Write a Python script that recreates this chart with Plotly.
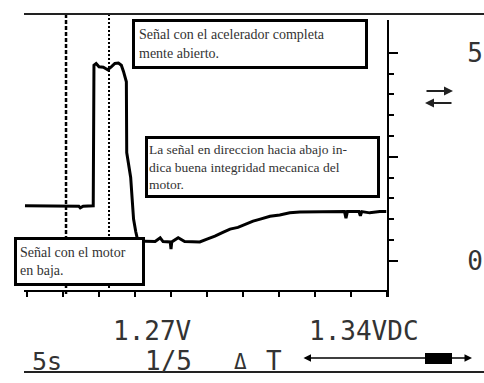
import plotly.graph_objects as go

# Scope trace: time in seconds (5 s/div, 10 divisions), signal in volts
time_s = [-0.28, 3.0, 7.2, 7.4, 7.8, 9.2, 9.3, 9.6, 10.0, 10.6, 11.2, 11.7, 12.2,
          12.7, 13.1, 13.4, 13.7, 13.8, 13.85, 14.2, 14.4, 14.6, 14.8, 15.1, 15.4,
          16.4, 17.8, 18.5, 18.9, 19.9, 20.0, 20.1, 21.0, 21.9, 24.0, 25.0, 26.1,
          27.2, 28.2, 29.3, 30.3, 31.4, 32.4, 33.75, 35.1, 36.5, 37.9, 40.7, 44.1,
          44.3, 44.5, 46.1, 46.3, 46.5, 47.6, 49.0, 49.9]
volts = [1.32, 1.32, 1.31, 1.27, 1.31, 1.32, 4.70, 4.74, 4.66, 4.65, 4.59, 4.66,
         4.74, 4.75, 4.70, 4.55, 4.40, 4.30, 2.60, 2.20, 2.00, 1.50, 1.00, 0.70,
         0.47, 0.47, 0.46, 0.55, 0.46, 0.45, 0.28, 0.45, 0.55, 0.46, 0.45, 0.52,
         0.59, 0.68, 0.76, 0.80, 0.88, 0.95, 1.00, 1.07, 1.10, 1.15, 1.17, 1.18,
         1.18, 1.02, 1.18, 1.18, 1.08, 1.18, 1.15, 1.18, 1.18]

cursor_times = [5.42, 11.39]          # dashed and dotted cursors
major_ticks = [0, 2.5, 5]
major_labels = ["0", "", "5"]
minor_ticks = [0.5, 1.0, 1.5, 2.0, 3.0, 3.5, 4.0, 4.5]

readout_top = ["1.27V", "1.34VDC"]
readout_bottom = ["5s", "1/5", "Δ", "T"]

notes = [
    "Señal con el acelerador completa<br>mente abierto.",
    "La señal en direccion hacia abajo in-<br>dica buena integridad mecanica del<br>motor.",
    "Señal con el motor<br>en baja.",
]

W, H = 484, 383


def px(x):
    return x / W


def py(y):
    return 1 - y / H


def volt_at(y):
    return (260.7 - y) / 41.6


fig = go.Figure()
fig.add_trace(go.Scatter(x=time_s, y=volts, mode="lines",
                         line=dict(color="black", width=3), hoverinfo="skip"))

shapes = []
# cursors
shapes.append(dict(type="line", xref="x", yref="paper", x0=cursor_times[0], x1=cursor_times[0],
                   y0=py(14), y1=py(296), line=dict(color="black", width=2.5, dash="4px,2px")))
shapes.append(dict(type="line", xref="x", yref="paper", x0=cursor_times[1], x1=cursor_times[1],
                   y0=py(14), y1=py(294), line=dict(color="black", width=2, dash="2px,2px")))
# frame lines of the display
shapes.append(dict(type="line", xref="paper", yref="paper", x0=px(24), x1=1, y0=py(14), y1=py(14),
                   line=dict(color="#222", width=2)))
shapes.append(dict(type="line", xref="paper", yref="paper", x0=px(24), x1=1, y0=py(372), y1=py(372),
                   line=dict(color="#222", width=2)))
# scroll-bar block
shapes.append(dict(type="rect", xref="paper", yref="paper", x0=px(425), x1=px(452),
                   y0=py(364), y1=py(353), fillcolor="black", line=dict(width=0)))

serif = "Liberation Serif"
mono = "DejaVu Sans Mono"

annotations = []
# (left, top, outer width, outer height, font size, padding)
box_specs = [(132, 19, 236, 50, 14, 4), (145, 136, 235, 62, 13.5, 1), (14, 237, 131, 49, 14, 3)]
for text, (bx, by, bw, bh, fs, pad) in zip(notes, box_specs):
    annotations.append(dict(
        text=text, xref="paper", yref="paper", x=px(bx), y=py(by), xanchor="left", yanchor="top",
        showarrow=False, align="left", valign="middle",
        width=bw - 2 * pad - 6, height=bh - 2 * pad - 6, borderpad=pad, borderwidth=3,
        bordercolor="black", bgcolor="white", font=dict(family=serif, size=fs, color="#333")))

for text, cx in zip(readout_top, [151.5, 364]):
    annotations.append(dict(text=text, xref="paper", yref="paper", x=px(cx), y=py(331),
                            xanchor="center", yanchor="middle", showarrow=False,
                            font=dict(family=mono, size=26, color="#333")))

for text, cx, cy, sz in zip(readout_bottom, [47, 168, 240, 274], [361, 361, 362, 361], [25, 26, 21, 26]):
    annotations.append(dict(text=text, xref="paper", yref="paper", x=px(cx), y=py(cy),
                            xanchor="center", yanchor="middle", showarrow=False,
                            font=dict(family=mono, size=sz, color="#333")))

# double-headed cursor arrow
annotations.append(dict(text="", xref="paper", yref="paper", x=px(472), y=py(358), ax=-170, ay=0,
                        showarrow=True, arrowside="end+start", arrowhead=2, arrowsize=1,
                        arrowwidth=1.5, arrowcolor="black"))
# trigger-direction arrows
annotations.append(dict(text="", xref="paper", yref="paper", x=px(453), y=py(91), ax=-28, ay=0,
                        showarrow=True, arrowhead=2, arrowsize=0.9, arrowwidth=2, arrowcolor="#222"))
annotations.append(dict(text="", xref="paper", yref="paper", x=px(425), y=py(103), ax=28, ay=0,
                        showarrow=True, arrowhead=2, arrowsize=0.9, arrowwidth=2, arrowcolor="#222"))

fig.update_layout(
    width=W, height=H, margin=dict(l=0, r=0, t=0, b=0),
    paper_bgcolor="white", plot_bgcolor="white", showlegend=False,
    shapes=shapes, annotations=annotations,
    xaxis=dict(domain=[px(24), px(387)], range=[-0.4167, 50], anchor="free", position=py(291),
               showline=True, linecolor="black", linewidth=2, ticks="outside", ticklen=5,
               tickwidth=2, tickcolor="black", tick0=0, dtick=5, showticklabels=False,
               showgrid=False, zeroline=False, fixedrange=True),
    yaxis=dict(domain=[py(297), py(20)], range=[volt_at(297), volt_at(20)], side="right",
               anchor="x", showline=True, linecolor="black", linewidth=2, ticks="outside",
               tickmode="array", tickvals=major_ticks, ticktext=major_labels, ticklen=9,
               tickwidth=2, tickcolor="black", ticklabelstandoff=64,
               tickfont=dict(family=mono, size=26, color="#333"),
               minor=dict(tickmode="array", tickvals=minor_ticks, ticks="outside", ticklen=5,
                          tickwidth=2, tickcolor="black"),
               showgrid=False, zeroline=False, fixedrange=True),
)

fig.write_html("out.html")
